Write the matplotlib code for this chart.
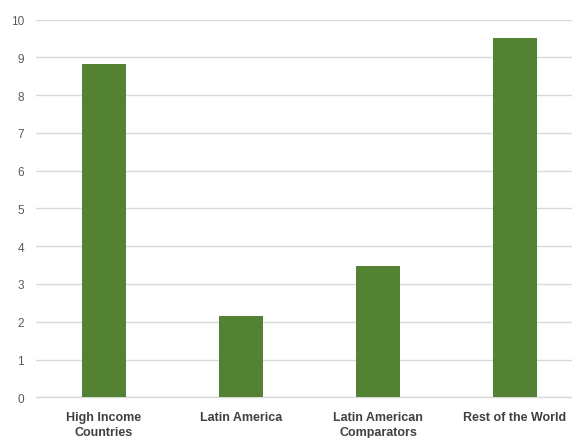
import matplotlib
matplotlib.use("Agg")
import matplotlib.pyplot as plt

categories = ["High Income\nCountries", "Latin America", "Latin American\nComparators", "Rest of the World"]
values = [8.81, 2.15, 3.47, 9.50]
yticks = [0, 1, 2, 3, 4, 5, 6, 7, 8, 9, 10]

fig = plt.figure(figsize=(5.72, 4.39), dpi=100)
ax = fig.add_axes([35.5/572, 1 - 398.3/439, 548/572, (398.3-20.5)/439])
x = list(range(len(categories)))
ax.bar(x, values, width=0.315, color="#548235", zorder=3)
ax.set_xlim(-0.5, 3.5)
ax.set_ylim(0, 10)
ax.set_yticks(yticks)
ax.set_yticklabels([str(t) for t in yticks], fontsize=8.5, color="#595959", family="Liberation Sans")
ax.set_xticks(x)
ax.set_xticklabels(categories, fontsize=9, fontweight="bold", color="#404040",
                   family="Liberation Sans", linespacing=1.32)
ax.tick_params(axis="both", length=0)
ax.tick_params(axis="y", pad=8.3)
ax.tick_params(axis="x", pad=10)
ax.grid(axis="y", color="#d9d9d9", linewidth=1.0, zorder=0)
for s in ["top", "right", "left"]:
    ax.spines[s].set_visible(False)
ax.spines["bottom"].set_color("#d9d9d9")
ax.spines["bottom"].set_linewidth(1.0)
fig.savefig("out.png", dpi=100)
